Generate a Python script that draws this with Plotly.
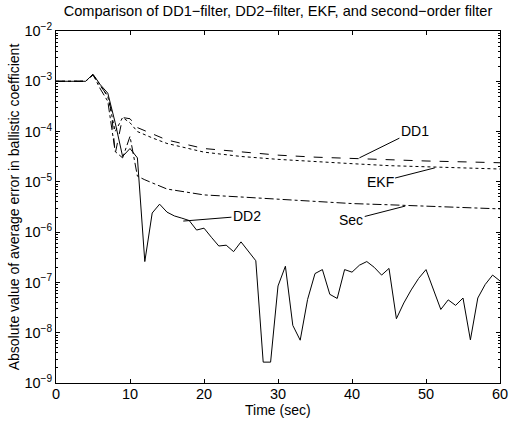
import math
import plotly.graph_objects as go

# ---------------- data ----------------
t_dd2 = list(range(0, 61))
dd2 = [1.0e-3, 1.0e-3, 1.0e-3, 1.0e-3, 1.0e-3, 1.38e-3, 8.5e-4, 5.8e-4, 1.5e-4, 3.2e-5,
       4.6e-5, 3.0e-5, 2.6e-7, 2.4e-6, 3.6e-6, 2.5e-6, 2.1e-6, 1.9e-6, 1.7e-6, 1.1e-6,
       1.2e-6, 7.9e-7, 5.3e-7, 5.5e-7, 4.1e-7, 6.4e-7, 4.1e-7, 2.7e-7, 2.6e-9, 2.6e-9,
       8.5e-8, 2.1e-7, 1.4e-8, 7.1e-9, 4.6e-8, 1.5e-7, 1.8e-7, 5.8e-8, 4.8e-8, 1.8e-7,
       1.6e-7, 2.2e-7, 2.6e-7, 2.0e-7, 1.4e-7, 1.9e-7, 1.9e-8, 3.9e-8, 7.1e-8, 1.2e-7,
       1.8e-7, 7.2e-8, 2.9e-8, 4.5e-8, 3.5e-8, 4.9e-8, 7.2e-9, 4.9e-8, 9.1e-8, 1.4e-7,
       1.07e-7]

t_dd1 = [0, 4, 5, 6, 7, 7.5, 8, 9, 10, 11, 13, 15, 20, 25, 30, 35, 40, 45, 50, 55, 60]
dd1 = [1.0e-3, 1.0e-3, 1.35e-3, 8.0e-4, 5.0e-4, 2.5e-4, 3.6e-5, 1.9e-4, 1.8e-4, 1.2e-4,
       9.0e-5, 6.8e-5, 4.6e-5, 3.9e-5, 3.4e-5, 3.1e-5, 2.9e-5, 2.7e-5, 2.6e-5, 2.5e-5, 2.4e-5]

t_ekf = [0, 4, 5, 6, 7, 8, 9, 10, 11, 13, 15, 20, 25, 30, 35, 40, 45, 50, 55, 60]
ekf = [1.0e-3, 1.0e-3, 1.35e-3, 8.0e-4, 5.0e-4, 1.0e-4, 1.9e-4, 1.5e-4, 1.0e-4, 7.5e-5,
       5.8e-5, 3.9e-5, 3.2e-5, 2.8e-5, 2.5e-5, 2.3e-5, 2.1e-5, 2.0e-5, 1.9e-5, 1.8e-5]

t_sec = [0, 4, 5, 6, 7, 8, 9, 10, 11, 12, 15, 20, 25, 30, 35, 40, 45, 50, 55, 60]
sec = [1.0e-3, 1.0e-3, 1.35e-3, 7.0e-4, 4.0e-4, 4.0e-5, 3.0e-5, 8.0e-5, 1.3e-5, 1.1e-5,
       7.2e-6, 5.5e-6, 5.0e-6, 4.5e-6, 4.0e-6, 3.7e-6, 3.5e-6, 3.3e-6, 3.1e-6, 2.9e-6]

x_ticks = [0, 10, 20, 30, 40, 50, 60]
y_tick_exp = [-9, -8, -7, -6, -5, -4, -3, -2]

# label name, label position (t, value), curve point (t, value)
labels = [
    ("DD1", 48.5, 1.05e-4, 41.0, 3.0e-5),
    ("EKF", 43.8, 1.0e-5, 51.2, 1.9e-5),
    ("Sec", 39.9, 1.75e-6, 47.2, 3.3e-6),
    ("DD2", 25.8, 2.1e-6, 17.2, 1.66e-6),
]

FONT = "Liberation Sans, Arial, Helvetica, sans-serif"
W, H = 509, 421
M = dict(l=56, r=9, t=31, b=38)

# ---------------- figure ----------------
fig = go.Figure()
common = dict(mode="lines", showlegend=False, hoverinfo="skip")
fig.add_trace(go.Scatter(x=t_dd1, y=dd1, line=dict(color="black", width=1, dash="dash"), **common))
fig.add_trace(go.Scatter(x=t_ekf, y=ekf, line=dict(color="black", width=1, dash="dot"), **common))
fig.add_trace(go.Scatter(x=t_sec, y=sec, line=dict(color="black", width=1, dash="dashdot"), **common))
fig.add_trace(go.Scatter(x=t_dd2, y=dd2, line=dict(color="black", width=1), **common))

for name, tx, ty, px, py in labels:
    fig.add_annotation(x=px, y=math.log10(py), ax=tx, ay=math.log10(ty),
                       axref="x", ayref="y", xref="x", yref="y",
                       text=name, showarrow=True, arrowhead=0, arrowwidth=1,
                       arrowcolor="black", standoff=0,
                       font=dict(family=FONT, size=14, color="black"))

# x-axis title as a paper-positioned text just below the tick labels
plot_h = H - M["t"] - M["b"]
fig.add_annotation(text="Time (sec)", xref="paper", yref="paper", x=0.5,
                   y=-27 / plot_h, xanchor="center", yanchor="middle", showarrow=False,
                   font=dict(family=FONT, size=14, color="black"))

fig.update_layout(
    width=W, height=H,
    margin=dict(**M, autoexpand=False),
    paper_bgcolor="white", plot_bgcolor="white",
    font=dict(family=FONT, size=14, color="black"),
    title=dict(text="Comparison of DD1\u2212filter, DD2\u2212filter, EKF, and second\u2212order filter",
               xref="paper", x=0.5, xanchor="center",
               yref="container", y=1 - 10.5 / H, yanchor="middle",
               font=dict(family=FONT, size=14.6)),
)
fig.update_xaxes(range=[0, 60], tickvals=x_ticks, ticks="inside", ticklen=4,
                 tickcolor="black", tickfont=dict(size=14.5), ticklabelstandoff=-2,
                 showline=True, linecolor="black", linewidth=1, mirror="ticks",
                 showgrid=False, zeroline=False, automargin=False)
fig.update_yaxes(type="log", range=[-9, -2],
                 tickvals=[10 ** e for e in y_tick_exp],
                 ticktext=["10<sup>\u2212%d</sup>" % (-e) for e in y_tick_exp],
                 ticks="inside", ticklen=4, tickcolor="black", tickfont=dict(size=14.5),
                 minor=dict(ticks="inside", ticklen=2, tickcolor="black", dtick="D1"),
                 showline=True, linecolor="black", linewidth=1, mirror="ticks",
                 showgrid=False, zeroline=False, automargin=False,
                 title=dict(text="Absolute value of average error in ballistic coefficient",
                            standoff=1, font=dict(size=14)))

fig.write_html("out.html",
               config={"displayModeBar": False},
               post_script="document.body.style.margin='0';document.body.style.overflow='hidden';")
